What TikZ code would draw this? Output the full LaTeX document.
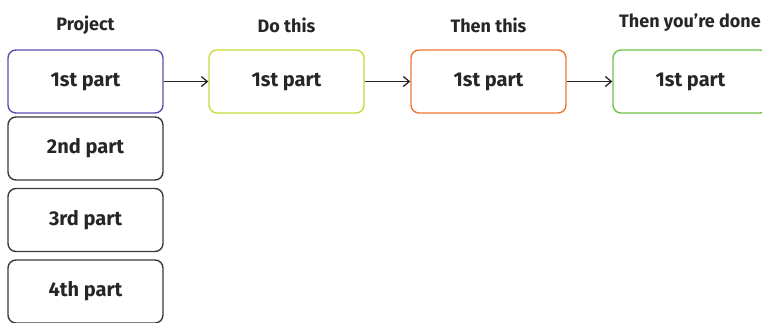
\documentclass[tikz,border=0pt]{standalone}
\usepackage{fontspec}
\setmainfont{Fira Sans}
\usetikzlibrary{arrows.meta}
\definecolor{cproj}{HTML}{5B4FB0}
\definecolor{cdo}{HTML}{C9D93A}
\definecolor{cthen}{HTML}{EE7433}
\definecolor{cdone}{HTML}{6EC24A}
\definecolor{cgrey}{HTML}{3A3A3A}
\tikzset{
  partbox/.style={draw=#1, line width=1.4pt, rounded corners=8pt, minimum width=155pt, minimum height=63pt, inner sep=0pt, font=\fontsize{20}{24}\selectfont\bfseries, text=black!85},
  title/.style={font=\fontsize{18}{21}\selectfont\bfseries, text=black!85},
  conn/.style={-{Straight Barb[length=6pt,width=10pt]}, line width=1.3pt, black!85}
}
\begin{document}
\begin{tikzpicture}[x=1pt,y=-1pt]
\useasboundingbox (0,0) rectangle (762,322);
\clip (0,0) rectangle (762,322);
\node[title] (t1) at (85.5,25) {Project};
\node[title] (t2) at (286.5,25) {Do this};
\node[title] (t3) at (488.5,25) {Then this};
\node[title] (t4) at (690,23) {Then you’re done};
\node[partbox=cproj] (p1) at (85.5,81.5) {1st part};
\node[partbox=cgrey] (p2) at (85.5,148.5) {2nd part};
\node[partbox=cgrey] (p3) at (85.5,220) {3rd part};
\node[partbox=cgrey] (p4) at (85.5,291.5) {4th part};
\node[partbox=cdo] (d1) at (286.5,81.5) {1st part};
\node[partbox=cthen] (h1) at (488.5,81.5) {1st part};
\node[partbox=cdone] (n1) at (690.5,81.5) {1st part};
\draw[conn] (p1) -- (d1);
\draw[conn] (d1) -- (h1);
\draw[conn] (h1) -- (n1);
\end{tikzpicture}
\end{document}
